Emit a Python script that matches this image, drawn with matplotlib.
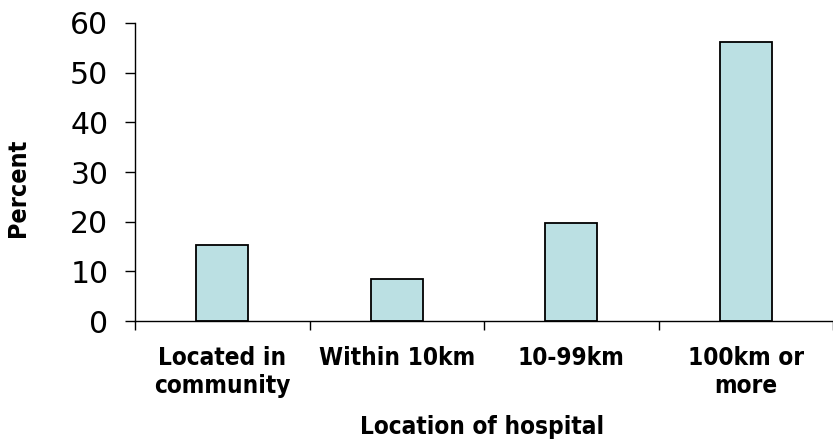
import matplotlib
matplotlib.use("Agg")
import matplotlib.pyplot as plt
import numpy as np

categories = ["Located in\ncommunity", "Within 10km", "10-99km", "100km or\nmore"]
percent = [15.3, 8.4, 19.7, 56.1]
y_ticks = [0, 10, 20, 30, 40, 50, 60]

BAR_COLOR = "#BBE0E3"

plt.rcParams["font.family"] = ["DejaVu Sans"]

fig = plt.figure(figsize=(8.33, 4.40), dpi=100)
ax = fig.add_axes([135 / 833, 119 / 440, 698 / 833, 298 / 440])

x = np.arange(len(categories))
ax.bar(x, percent, width=0.3, color=BAR_COLOR, edgecolor="black", linewidth=1.3, zorder=2)

ax.set_xlim(-0.5, 3.48)
ax.set_ylim(0, 60)
ax.set_yticks(y_ticks)
ax.set_xticks(x)
ax.set_xticklabels(categories, fontsize=17.5, fontweight="bold", linespacing=1.2,
                   fontstretch="condensed")
ax.set_xticks(np.arange(-0.5, len(categories), 1.0), minor=True)

ax.tick_params(axis="x", which="major", length=0, pad=18)
ax.tick_params(axis="x", which="minor", length=6.5, width=1.0, direction="out")
ax.tick_params(axis="y", length=7.2, width=1.0, pad=12, labelsize=21.5, direction="out")

for side in ["top", "right"]:
    ax.spines[side].set_visible(False)
for side in ["left", "bottom"]:
    ax.spines[side].set_linewidth(1.0)

fig.text(18 / 833, 1 - 188 / 440, "Percent", rotation=90, ha="center", va="center",
         fontsize=18, fontweight="bold", fontstretch="condensed")
fig.text(482 / 833, 6 / 440, "Location of hospital", ha="center", va="baseline",
         fontsize=17.5, fontweight="bold", fontstretch="condensed")

fig.savefig("out.png", dpi=100)
